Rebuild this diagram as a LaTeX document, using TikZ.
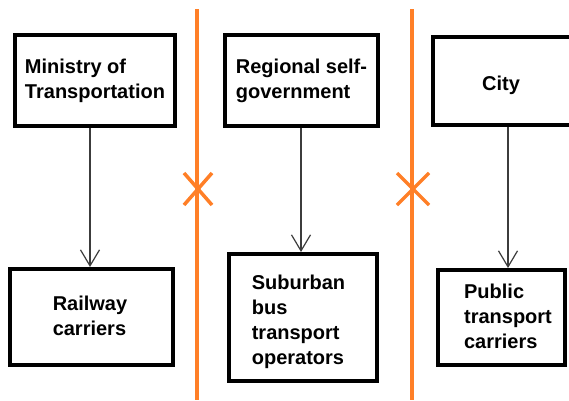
\documentclass[tikz,border=0pt]{standalone}
\usepackage{fontspec}
\setmainfont{Liberation Sans}
\usetikzlibrary{arrows.meta}
\definecolor{orng}{RGB}{255,127,39}
\definecolor{arrgray}{RGB}{60,60,60}
\begin{document}
\begin{tikzpicture}[x=1pt,y=-1pt,
  box/.style={draw=black, line width=4pt, fill=white, inner sep=0pt},
  lbl/.style={font=\fontsize{20}{25}\selectfont\bfseries, align=left, inner sep=0pt, text=black},
  arr/.style={draw=arrgray, line width=1.2pt, -{Straight Barb[length=16pt,width=19pt,line width=1.2pt]}},
  divider/.style={draw=orng, line width=4pt},
  cross/.style={draw=orng, line width=3.5pt}]
\clip (0,0) rectangle (569,400);
\useasboundingbox (0,0) rectangle (569,400);
\fill[white] (0,0) rectangle (569,400);
% top row
\node[box, minimum width=160pt, minimum height=91pt] (min) at (95,80.5) {};
\node[lbl] (mint) at (95,80.5) {Ministry of\\Transportation};
\node[box, minimum width=153pt, minimum height=91pt] (reg) at (301.5,80.5) {};
\node[lbl] (regt) at (301.5,80.5) {Regional self-\\government};
\node[box, minimum width=200pt, minimum height=88pt] (city) at (533,81) {};
\node[lbl] (cityt) at (501,85) {City};
% bottom row
\node[box, minimum width=163pt, minimum height=96pt] (rail) at (91.5,317) {};
\node[lbl] (railt) at (90,315.5) {Railway\\carriers};
\node[box, minimum width=148pt, minimum height=127pt] (sub) at (303,317.5) {};
\node[lbl] (subt) at (298.5,322) {Suburban\\bus\\transport\\operators};
\node[box, minimum width=127pt, minimum height=95pt] (pub) at (501.5,317.5) {};
\node[lbl] (pubt) at (508,316.7) {Public\\transport\\carriers};
% arrows
\coordinate (ax1) at (90,0);
\coordinate (ax2) at (301,0);
\coordinate (ax3) at (508,0);
\draw[arr] (min.south -| ax1) -- (rail.north -| ax1);
\draw[arr] (reg.south -| ax2) -- (sub.north -| ax2);
\draw[arr] (city.south -| ax3) -- (pub.north -| ax3);
% dividers
\coordinate (d1t) at (197,9);
\coordinate (d1b) at (197,400);
\coordinate (d2t) at (412,9);
\coordinate (d2b) at (412,400);
\draw[divider] (d1t) -- (d1b);
\draw[divider] (d2t) -- (d2b);
% crosses
\draw[cross] (184,173) -- (212,205) (212,173) -- (184,205);
\draw[cross] (397,173) -- (429,205) (429,173) -- (397,205);
\end{tikzpicture}
\end{document}
